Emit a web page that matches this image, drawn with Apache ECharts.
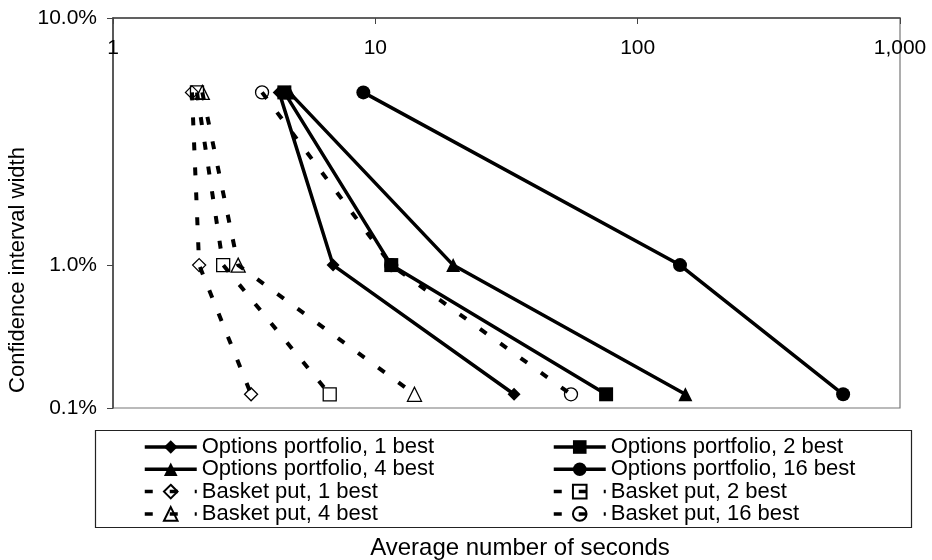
<!DOCTYPE html>
<html>
<head>
<meta charset="utf-8">
<script src="https://cdn.jsdelivr.net/npm/echarts@6/dist/echarts.min.js"></script>
<style>html,body{margin:0;padding:0;background:#fff;}#c{width:932px;height:560px;}</style>
</head>
<body>
<div id="c"></div>
<script>
// ---- data (x: average seconds, y: confidence interval width in %) ----
const yLevels = [5, 1, 0.3];
const optionsBest1X = [4.3, 6.9, 33.8];
const optionsBest2X = [4.5, 11.5, 75.8];
const optionsBest4X = [4.7, 19.8, 152];
const optionsBest16X = [9.0, 145, 607];
const basketBest1X = [2.0, 2.13, 3.36];
const basketBest2X = [2.09, 2.63, 6.7];
const basketBest4X = [2.19, 3.0, 14.1];
const basketBest16X = [3.7, 11.5, 55.7];

const xTickValues = [1, 10, 100, 1000];
const xTickLabels = ['1', '10', '100', '1,000'];
const yTickValues = [0.264, 1, 10];
const yTickLabels = ['0.1%', '1.0%', '10.0%'];

const seriesNames = {
  o1: 'Options portfolio, 1 best', o2: 'Options portfolio, 2 best',
  o4: 'Options portfolio, 4 best', o16: 'Options portfolio, 16 best',
  b1: 'Basket put, 1 best', b2: 'Basket put, 2 best',
  b4: 'Basket put, 4 best', b16: 'Basket put, 16 best'
};

function pts(xs) { return xs.map((x, i) => [x, yLevels[i]]); }

const FONT = 'Liberation Sans, Arial, Helvetica, sans-serif';

function solid(name, xs, symbol, size) {
  return {
    name, type: 'line', data: pts(xs), symbol, symbolSize: size,
    lineStyle: { color: '#000', width: 3.5 },
    itemStyle: { color: '#000', borderColor: '#000', borderWidth: 0 },
    z: 3, animation: false
  };
}
function dashed(name, xs, symbol, size) {
  return {
    name, type: 'line', data: pts(xs), symbol, symbolSize: size,
    lineStyle: { color: '#000', width: 4, type: [8, 17] },
    itemStyle: { color: 'rgba(255,255,255,0)', borderColor: '#000', borderWidth: 1.3 },
    z: 2, animation: false
  };
}

const chart = echarts.init(document.getElementById('c'), null, { renderer: 'canvas' });

const legendCommon = {
  orient: 'vertical', top: 436, padding: 0, itemWidth: 52, itemHeight: 17, itemGap: 0.3,
  textStyle: { fontFamily: FONT, fontSize: 22, color: '#000', lineHeight: 22 },
  lineStyle: { width: 3.5 },
  inactiveColor: '#000', selectedMode: false
};

chart.setOption({
  backgroundColor: '#fff',
  animation: false,
  grid: { left: 113, top: 18, right: 32, bottom: 152, show: true, borderColor: '#777', borderWidth: 1.2, backgroundColor: 'transparent' },
  xAxis: {
    type: 'log', logBase: 10, min: 1, max: 1000, position: 'top',
    axisLine: { show: true, lineStyle: { color: '#444', width: 1.6 } },
    axisTick: { show: true, inside: true, length: 6, lineStyle: { color: '#444' } },
    minorTick: { show: false }, splitLine: { show: false },
    axisLabel: {
      inside: true, margin: 20, fontFamily: FONT, fontSize: 21, color: '#000',
      showMinLabel: true, showMaxLabel: true,
      formatter: v => { const i = xTickValues.findIndex(t => Math.abs(Math.log10(t) - Math.log10(v)) < 1e-6); return i >= 0 ? xTickLabels[i] : ''; }
    }
  },
  yAxis: {
    type: 'log', logBase: 10, min: yTickValues[0], max: yTickValues[2],
    axisLine: { show: true, lineStyle: { color: '#444', width: 1.6 } },
    axisTick: { show: true, length: 6, lineStyle: { color: '#444' }, customValues: yTickValues },
    minorTick: { show: false }, splitLine: { show: false },
    axisLabel: {
      margin: 16, fontFamily: FONT, fontSize: 21, color: '#000',
      customValues: yTickValues,
      formatter: v => { const i = yTickValues.findIndex(t => Math.abs(Math.log10(t) - Math.log10(v)) < 1e-3); return i >= 0 ? yTickLabels[i] : ''; }
    }
  },
  legend: [
    Object.assign({}, legendCommon, { left: 143, data: [seriesNames.o1, seriesNames.o4, seriesNames.b1, seriesNames.b4] }),
    Object.assign({}, legendCommon, { left: 552, data: [seriesNames.o2, seriesNames.o16, seriesNames.b2, seriesNames.b16] })
  ],
  graphic: [
    { type: 'rect', left: 93, top: 428, shape: { width: 816, height: 97 }, style: { fill: 'none', stroke: '#222', lineWidth: 1.2 }, silent: true },
    { type: 'text', x: 520, y: 548, style: { text: 'Average number of seconds', font: '24px ' + FONT, fill: '#000', align: 'center', verticalAlign: 'middle' }, silent: true },
    { type: 'text', x: 18, y: 270, rotation: Math.PI / 2, style: { text: 'Confidence interval width', font: '22px ' + FONT, fill: '#000', align: 'center', verticalAlign: 'middle' }, silent: true }
  ],
  series: [
    dashed(seriesNames.b1, basketBest1X, 'diamond', 13),
    dashed(seriesNames.b2, basketBest2X, 'rect', 13),
    dashed(seriesNames.b4, basketBest4X, 'triangle', 14),
    dashed(seriesNames.b16, basketBest16X, 'circle', 13),
    solid(seriesNames.o1, optionsBest1X, 'diamond', 13),
    solid(seriesNames.o2, optionsBest2X, 'rect', 14),
    solid(seriesNames.o4, optionsBest4X, 'triangle', 14),
    solid(seriesNames.o16, optionsBest16X, 'circle', 14)
  ]
});
</script>
</body>
</html>
